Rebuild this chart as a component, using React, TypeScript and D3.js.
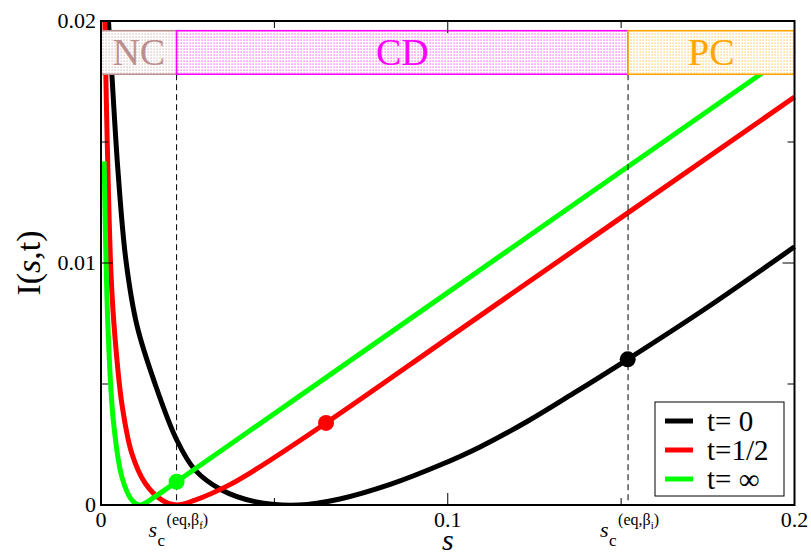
import React, { useEffect, useRef } from "react";
import * as d3 from "d3";

// rate function I(s,t)
const sT0 = [0.0017, 0.00216, 0.00288, 0.0049, 0.0072, 0.0104, 0.0156, 0.0218, 0.0271, 0.0348, 0.0444, 0.057, 0.0689, 0.0834, 0.0978, 0.1093, 0.1229, 0.1361, 0.1519, 0.1747, 0.2];
const iT0 = [0.0214, 0.02, 0.0184, 0.0138, 0.0101, 0.0074, 0.0050, 0.0027, 0.00145, 0.00062, 0.00014, 0.0, 0.00025, 0.00085, 0.00165, 0.0024, 0.00345, 0.0046, 0.00602, 0.00815, 0.01067];

const sHalf = [0.0009, 0.0011, 0.0018, 0.0029, 0.004, 0.006, 0.00885, 0.0127, 0.0175, 0.0218, 0.0271, 0.0366, 0.0444, 0.0649, 0.1044, 0.2];
const iHalf = [0.0215, 0.02, 0.015, 0.0095, 0.007, 0.0042, 0.00215, 0.00091, 0.00021, 0.0, 0.0002, 0.0008, 0.00145, 0.00339, 0.00733, 0.01686];

const sInf = [0.0009, 0.0014, 0.0021, 0.00355, 0.006, 0.00885, 0.0113, 0.0156, 0.0218, 0.0444, 0.0853, 0.2];
const iInf = [0.0142, 0.0104, 0.007, 0.0035, 0.00117, 0.00021, 0.0, 0.00035, 0.00096, 0.00322, 0.00731, 0.01878];

const seriesNames = ["t= 0", "t=1/2", "t= \u221e"];
const seriesColors = ["#000000", "#ff0000", "#00ff00"];

// marked points on each curve
const markS = [0.1519, 0.0649, 0.0218];
const markI = [0.00602, 0.00339, 0.00096];

// critical values s_c
const critS = [0.0218, 0.152];

// regions along the top
const regionNames = ["NC", "CD", "PC"];
const regionEdges = [0, 0.0218, 0.152, 0.2];
const regionColors = ["#bc8f8f", "#ff00ff", "#ffa500"];
const regionBand = [0.0178, 0.0196];

const xMajor = [0, 0.1, 0.2];
const xMinor = [0.05, 0.15];
const yMajor = [0, 0.01, 0.02];
const yMinor = [0.005, 0.015];

const W = 811;
const H = 557;
const FONT = '"Liberation Serif", "Times New Roman", Times, serif';

export default function App() {
  const ref = useRef<SVGSVGElement>(null);

  useEffect(() => {
    const svg = d3.select(ref.current);
    const left = 101, right = 794.5, top = 21, bottom = 505;

    const x = d3.scaleLinear().domain([0, 0.2]).range([left, right]);
    const y = d3.scaleLinear().domain([0, 0.02]).range([bottom, top]);

    const defs = svg.append("defs");
    defs.append("clipPath").attr("id", "plot-clip")
      .append("rect").attr("x", left).attr("y", top)
      .attr("width", right - left + 3).attr("height", bottom - top);

    regionColors.forEach((c, i) => {
      const p = defs.append("pattern").attr("id", `dots-${i}`)
        .attr("patternUnits", "userSpaceOnUse").attr("width", 3).attr("height", 3);
      p.append("rect").attr("width", 3).attr("height", 3).attr("fill", "#fff");
      p.append("rect").attr("x", 0.5).attr("y", 0.5).attr("width", 1.2).attr("height", 1.2)
        .attr("fill", c).attr("opacity", 0.7);
    });

    // curves
    const line = d3.line<[number, number]>()
      .x(d => x(d[0])).y(d => y(d[1]))
      .curve(d3.curveCatmullRom.alpha(0.5));
    const curves = [
      d3.zip(sT0, iT0),
      d3.zip(sHalf, iHalf),
      d3.zip(sInf, iInf),
    ] as [number, number][][];

    svg.append("g").attr("clip-path", "url(#plot-clip)")
      .selectAll("path").data(curves).join("path")
      .attr("d", d => line(d))
      .attr("fill", "none")
      .attr("stroke", (d, i) => seriesColors[i])
      .attr("stroke-width", 5);

    // dashed critical lines
    svg.append("g").selectAll("line").data(critS).join("line")
      .attr("x1", d => x(d)).attr("x2", d => x(d))
      .attr("y1", y(regionBand[0])).attr("y2", bottom)
      .attr("stroke", "#000").attr("stroke-width", 1)
      .attr("stroke-dasharray", "6,4");

    // region bands
    const bands = svg.append("g").selectAll("g").data(regionNames).join("g");
    bands.append("rect")
      .attr("x", (d, i) => x(regionEdges[i]))
      .attr("width", (d, i) => x(regionEdges[i + 1]) - x(regionEdges[i]))
      .attr("y", y(regionBand[1]))
      .attr("height", y(regionBand[0]) - y(regionBand[1]))
      .attr("fill", (d, i) => `url(#dots-${i})`)
      .attr("stroke", (d, i) => regionColors[i])
      .attr("stroke-width", 1.5);
    bands.append("text")
      .attr("x", (d, i) => (x(regionEdges[i]) + x(regionEdges[i + 1])) / 2)
      .attr("y", y(regionBand[0]) - 9)
      .attr("text-anchor", "middle")
      .attr("font-size", 38)
      .attr("fill", (d, i) => regionColors[i])
      .text(d => d);

    // marker dots
    svg.append("g").selectAll("circle").data(markS).join("circle")
      .attr("cx", d => x(d)).attr("cy", (d, i) => y(markI[i]))
      .attr("r", 8).attr("fill", (d, i) => seriesColors[i]);

    // frame and ticks on all sides
    svg.append("rect").attr("x", left).attr("y", top)
      .attr("width", right - left).attr("height", bottom - top)
      .attr("fill", "none").attr("stroke", "#000").attr("stroke-width", 2);

    const ticks = svg.append("g").attr("stroke", "#000").attr("stroke-width", 1);
    const xt = [...xMajor.map(v => [v, 12]), ...xMinor.map(v => [v, 7])];
    const yt = [...yMajor.map(v => [v, 12]), ...yMinor.map(v => [v, 7])];
    xt.forEach(([v, len]) => {
      ticks.append("line").attr("x1", x(v)).attr("x2", x(v)).attr("y1", bottom).attr("y2", bottom - len);
      ticks.append("line").attr("x1", x(v)).attr("x2", x(v)).attr("y1", top).attr("y2", top + len);
    });
    yt.forEach(([v, len]) => {
      ticks.append("line").attr("y1", y(v)).attr("y2", y(v)).attr("x1", left).attr("x2", left + len);
      ticks.append("line").attr("y1", y(v)).attr("y2", y(v)).attr("x1", right).attr("x2", right - len);
    });

    // tick labels
    const fmt = (v: number) => (v === 0 ? "0" : String(v));
    svg.append("g").selectAll("text").data(xMajor).join("text")
      .attr("x", d => x(d)).attr("y", bottom + 22)
      .attr("text-anchor", "middle")
      .attr("font-size", 22)
      .text(fmt);
    svg.append("g").selectAll("text").data(yMajor).join("text")
      .attr("x", left - 5).attr("y", d => y(d) + 7)
      .attr("text-anchor", "end")
      .attr("font-size", 22)
      .text(fmt);

    // axis titles
    svg.append("text")
      .attr("x", x(0.1)).attr("y", 550)
      .attr("text-anchor", "middle")
      .attr("font-size", 30).attr("font-style", "italic")
      .text("s");
    const yl = svg.append("text")
      .attr("transform", `translate(40,${(top + bottom) / 2}) rotate(-90)`)
      .attr("text-anchor", "middle")
      .attr("font-size", 34);
    yl.append("tspan").text("I(");
    yl.append("tspan").attr("font-style", "italic").text("s");
    yl.append("tspan").text(",t)");

    // s_c annotations
    const subs = ["f", "i"];
    critS.forEach((v, i) => {
      const x0 = x(v) - 28;
      const g = svg.append("g").attr("fill", "#000");
      g.append("text").attr("x", x0).attr("y", bottom + 32)
        .attr("font-size", 22).attr("font-style", "italic").text("s");
      g.append("text").attr("x", x0 + 9).attr("y", bottom + 41)
        .attr("font-size", 17).text("c");
      const sup = g.append("text").attr("x", x0 + 18).attr("y", bottom + 20).attr("font-size", 16);
      sup.append("tspan").text("(eq,\u03b2");
      sup.append("tspan").attr("font-size", 11).attr("dy", 4).text(subs[i]);
      sup.append("tspan").attr("dy", -4).text(")");
    });

    // legend
    const lg = svg.append("g");
    lg.append("rect").attr("x", 655).attr("y", 402).attr("width", 129).attr("height", 94)
      .attr("fill", "#fff").attr("stroke", "#000").attr("stroke-width", 1);
    seriesNames.forEach((name, i) => {
      const yy = 421 + i * 29;
      lg.append("line").attr("x1", 665).attr("x2", 693).attr("y1", yy).attr("y2", yy)
        .attr("stroke", seriesColors[i]).attr("stroke-width", 5);
      lg.append("text").attr("x", 707).attr("y", yy + 10)
        .attr("font-size", 29).text(name);
    });

    return () => {
      svg.html("");
    };
  }, []);

  return (
    <svg ref={ref} width={W} height={H}
      style={{ position: "absolute", left: 0, top: 0, background: "#fff", fontFamily: FONT }} />
  );
}
